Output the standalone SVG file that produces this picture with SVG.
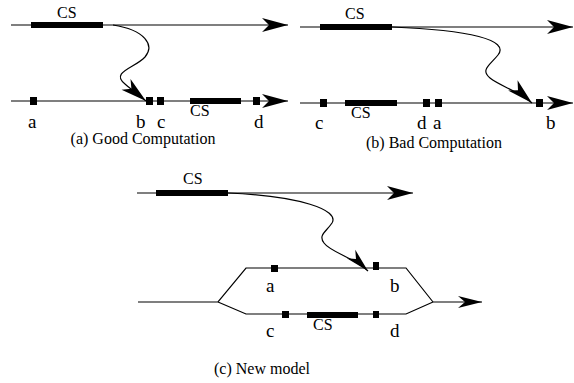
<svg xmlns="http://www.w3.org/2000/svg" width="574" height="383" viewBox="0 0 574 383">
  <style>
    .ln { fill: none; stroke: #000; stroke-width: 1.2; }
    .cs { fill: #000; }
    .ev { fill: #000; }
    text { font-family: 'Liberation Serif', 'DejaVu Serif', 'Times New Roman', serif; fill: #000; }
    .lbl { font-size: 19px; }
    .csl { font-size: 16px; }
    .cap { font-size: 16px; }
  </style>
  <defs>
    <marker id="arr" markerUnits="userSpaceOnUse" markerWidth="30" markerHeight="16" viewBox="-27 -8 28 16" refX="0" refY="0" orient="auto">
      <path d="M0,0 L-26,-7 L-19,0 L-26,7 z" fill="#000"/>
    </marker>
    <marker id="arrc" markerUnits="userSpaceOnUse" markerWidth="30" markerHeight="16" viewBox="-27 -8 28 16" refX="0" refY="0" orient="auto">
      <path d="M0,0 L-24,-6 L-17,0 L-24,6 z" fill="#000"/>
    </marker>
  </defs>

  <!-- (a) Good Computation -->
  <g id="good">
    <line class="ln" x1="11" y1="25" x2="288" y2="25" marker-end="url(#arr)"/>
    <rect class="cs" x="31" y="22" width="72" height="6"/>
    <text class="csl" x="57" y="18">CS</text>
    <line class="ln" x1="11" y1="101" x2="288" y2="101" marker-end="url(#arr)"/>
    <rect class="ev" x="30" y="97" width="7" height="8"/>
    <rect class="ev" x="146" y="97" width="7" height="8"/>
    <rect class="ev" x="157" y="97" width="7" height="8"/>
    <rect class="cs" x="190" y="98" width="51" height="6"/>
    <rect class="ev" x="253" y="97" width="7" height="8"/>
    <text class="csl" x="190" y="116">CS</text>
    <text class="lbl" x="28" y="128">a</text>
    <text class="lbl" x="136" y="128">b</text>
    <text class="lbl" x="157" y="128">c</text>
    <text class="lbl" x="254" y="128">d</text>
    <text class="cap" x="143" y="144" text-anchor="middle">(a) Good Computation</text>
  </g>

  <!-- (b) Bad Computation -->
  <g id="bad">
    <line class="ln" x1="300" y1="27" x2="573" y2="27" marker-end="url(#arr)"/>
    <rect class="cs" x="320" y="24" width="72" height="6"/>
    <text class="csl" x="345" y="19">CS</text>
    <line class="ln" x1="300" y1="103" x2="573" y2="103" marker-end="url(#arr)"/>
    <rect class="ev" x="320" y="99" width="7" height="8"/>
    <rect class="cs" x="345" y="100" width="52" height="6"/>
    <rect class="ev" x="423" y="99" width="7" height="8"/>
    <rect class="ev" x="435" y="99" width="7" height="8"/>
    <rect class="ev" x="536" y="99" width="7" height="8"/>
    <text class="csl" x="351" y="118">CS</text>
    <text class="lbl" x="315" y="129">c</text>
    <text class="lbl" x="417" y="129">d</text>
    <text class="lbl" x="433" y="129">a</text>
    <text class="lbl" x="546" y="129">b</text>
    <text class="cap" x="434" y="148" text-anchor="middle">(b) Bad Computation</text>
  </g>

  <!-- (c) New model -->
  <g id="newmodel">
    <line class="ln" x1="137" y1="193" x2="413" y2="193" marker-end="url(#arr)"/>
    <rect class="cs" x="156" y="190" width="72" height="6"/>
    <text class="csl" x="183" y="184">CS</text>
    <path class="ln" d="M138,302 L218,302 L246,268 L406,268 L433,302 M218,302 L246,314 L406,314 L433,302"/>
    <line class="ln" x1="433" y1="302" x2="482" y2="302" marker-end="url(#arrc)"/>
    <rect class="ev" x="271" y="265" width="7" height="7"/>
    <rect class="ev" x="373" y="262" width="6" height="8"/>
    <rect class="ev" x="282" y="311" width="7" height="7"/>
    <rect class="cs" x="307" y="312" width="51" height="6"/>
    <rect class="ev" x="373" y="311" width="6" height="7"/>
    <text class="csl" x="313" y="330">CS</text>
    <text class="lbl" x="266" y="292">a</text>
    <text class="lbl" x="390" y="292">b</text>
    <text class="lbl" x="266" y="337">c</text>
    <text class="lbl" x="390" y="337">d</text>
    <text class="cap" x="262" y="374" text-anchor="middle">(c) New model</text>
  </g>

  <!-- message connectors -->
  <g id="messages">
    <path class="ln" d="M113,25 C145,30 155,45 145,57 C135,68 110,72 125,84 C132,90 140,96 146,101" marker-end="url(#arr)"/>
    <path class="ln" d="M392,27 C470,30 510,40 498,55 C490,65 480,70 490,78 C500,86 520,92 532,103" marker-end="url(#arr)"/>
    <path class="ln" d="M228,193 C300,196 340,210 332,223 C326,232 318,235 324,243 C330,252 355,258 368,271" marker-end="url(#arrc)"/>
  </g>
</svg>
